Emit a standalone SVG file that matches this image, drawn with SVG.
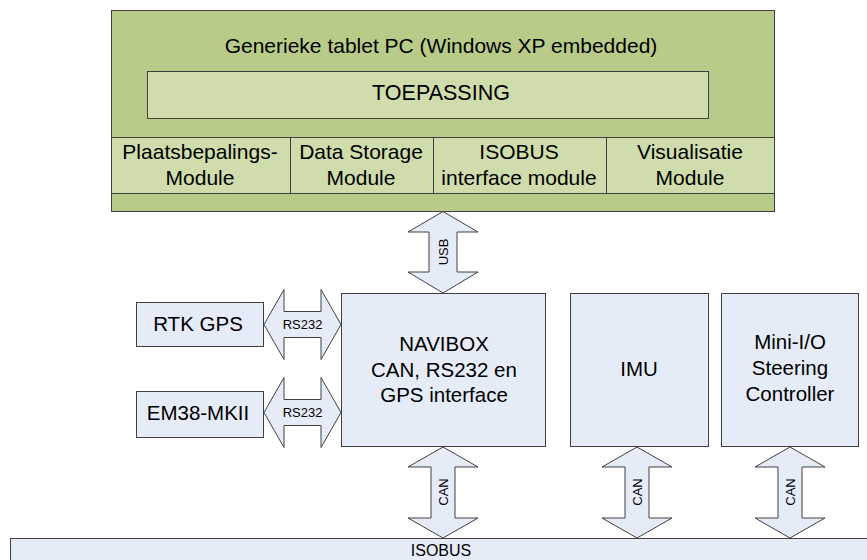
<svg xmlns="http://www.w3.org/2000/svg" width="867" height="560" viewBox="0 0 867 560">
<style>
text{font-family:"Liberation Sans",Arial,sans-serif;fill:#000;text-anchor:middle}
.big{font-size:20.5px}
.top{font-size:21px}
.sm{font-size:13px}
.box{fill:#e5ecf7;stroke:#404040;stroke-width:1}
.arr{fill:#e5ecf7;stroke:#404040;stroke-width:1}
.g1{fill:#b8cb88;stroke:#404040;stroke-width:1}
.g2{fill:#cfdcac;stroke:#404040;stroke-width:1}
</style>
<rect width="867" height="560" fill="#fff"/>
<g id="tablet">
<rect class="g1" x="111.5" y="10.5" width="663" height="201"/>
<text class="top" x="441" y="53">Generieke tablet PC (Windows XP embedded)</text>
</g>
<g id="toepassing">
<rect class="g2" x="147.5" y="71.5" width="561" height="47"/>
<text class="top" x="441" y="100" style="font-size:21.5px">TOEPASSING</text>
</g>
<g id="plaats">
<rect class="g2" x="111.5" y="137.5" width="179" height="56"/>
<text class="top" x="200" y="159">Plaatsbepalings-</text>
<text class="top" x="200" y="185">Module</text>
</g>
<g id="datastorage">
<rect class="g2" x="290.5" y="137.5" width="143" height="56"/>
<text class="top" x="361" y="159">Data Storage</text>
<text class="top" x="361" y="185">Module</text>
</g>
<g id="isobusif">
<rect class="g2" x="433.5" y="137.5" width="173" height="56"/>
<text class="top" x="519" y="159">ISOBUS</text>
<text class="top" x="519" y="185">interface module</text>
</g>
<g id="visual">
<rect class="g2" x="606.5" y="137.5" width="168" height="56"/>
<text class="top" x="690" y="159">Visualisatie</text>
<text class="top" x="690" y="185">Module</text>
</g>
<g id="rtk">
<rect class="box" x="136.5" y="302.5" width="127" height="44"/>
<text class="big" x="198" y="331">RTK GPS</text>
</g>
<g id="em38">
<rect class="box" x="136.5" y="391.5" width="127" height="46"/>
<text class="big" x="198" y="420">EM38-MKII</text>
</g>
<g id="navibox">
<rect class="box" x="341.5" y="293.5" width="204" height="153"/>
<text class="big" x="444" y="351">NAVIBOX</text>
<text class="big" x="444" y="377">CAN, RS232 en</text>
<text class="big" x="444" y="402">GPS interface</text>
</g>
<g id="imu">
<rect class="box" x="570.5" y="293.5" width="138" height="153"/>
<text class="big" x="639" y="376">IMU</text>
</g>
<g id="miniio">
<rect class="box" x="721.5" y="293.5" width="137" height="153"/>
<text class="big" x="790" y="349">Mini-I/O</text>
<text class="big" x="790" y="375">Steering</text>
<text class="big" x="790" y="401">Controller</text>
</g>
<g id="isobus">
<rect class="box" x="10.5" y="538.5" width="870" height="40"/>
<text x="441" y="556" style="font-size:16px">ISOBUS</text>
</g>
<g id="connectors">
<path class="arr" d="M443,211.5 L478,232 L457,232 L457,272 L478,272 L443,293 L408,272 L429,272 L429,232 L408,232 Z"/>
<text class="sm" transform="translate(447.5,252) rotate(-90)">USB</text>
<path class="arr" d="M264,324.5 L284,289.5 L284,311.5 L321,311.5 L321,289.5 L341,324.5 L321,359.5 L321,337.5 L284,337.5 L284,359.5 Z"/>
<text class="sm" x="302.5" y="329">RS232</text>
<path class="arr" d="M264,412.5 L284,377.5 L284,399.5 L321,399.5 L321,377.5 L341,412.5 L321,447.5 L321,425.5 L284,425.5 L284,447.5 Z"/>
<text class="sm" x="302.5" y="417">RS232</text>
<path class="arr" d="M443,447 L478,467 L455,467 L455,518 L478,518 L443,538 L408,518 L431,518 L431,467 L408,467 Z"/>
<text class="sm" transform="translate(447.5,492) rotate(-90)">CAN</text>
<path class="arr" d="M637,447 L672,467 L649,467 L649,518 L672,518 L637,538 L602,518 L625,518 L625,467 L602,467 Z"/>
<text class="sm" transform="translate(641.5,492) rotate(-90)">CAN</text>
<path class="arr" d="M790,447 L825,467 L802,467 L802,518 L825,518 L790,538 L755,518 L778,518 L778,467 L755,467 Z"/>
<text class="sm" transform="translate(794.5,492) rotate(-90)">CAN</text>
</g>
</svg>
